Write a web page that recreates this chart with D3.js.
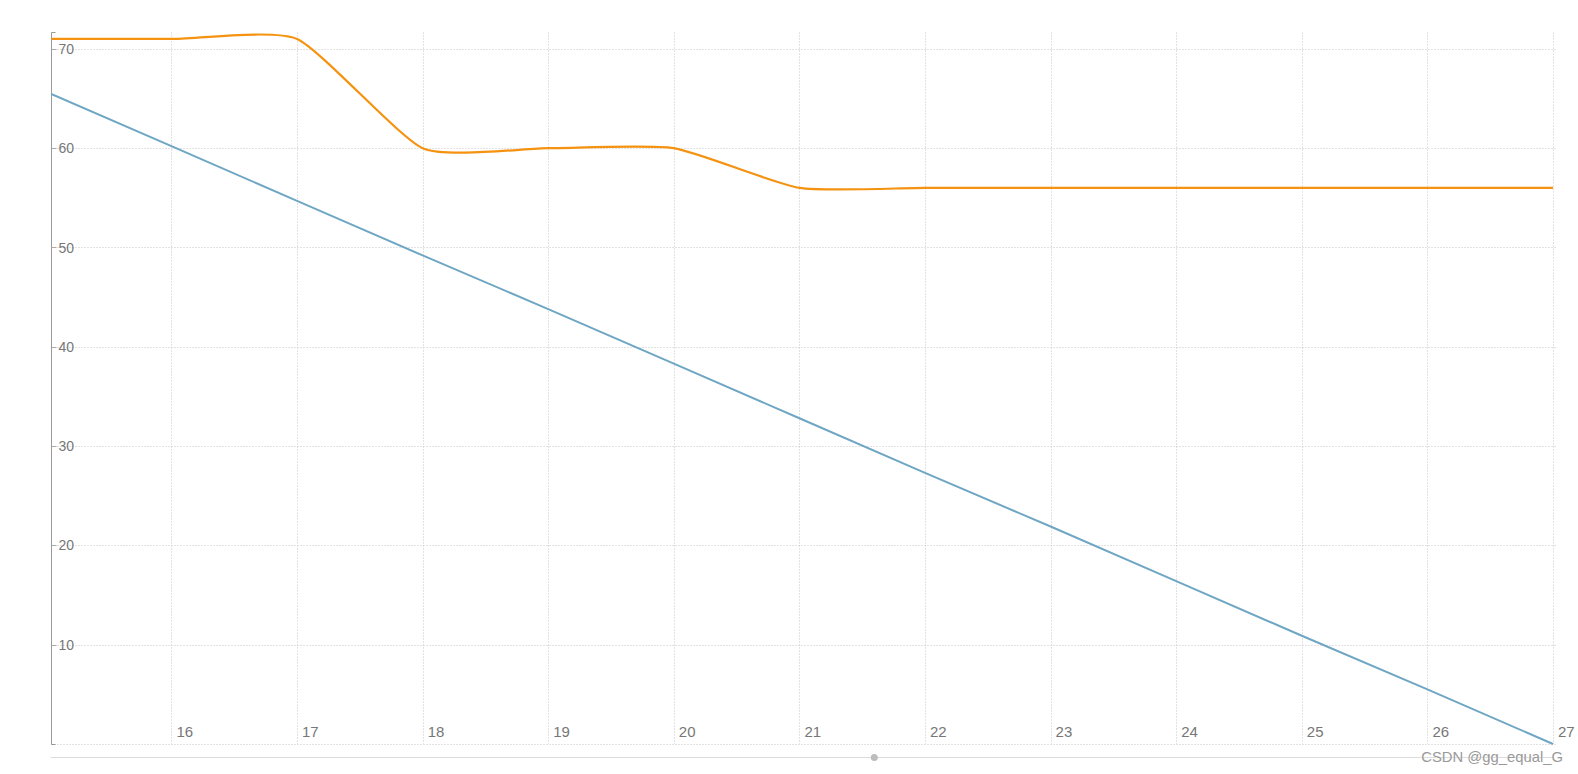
<!DOCTYPE html>
<html>
<head>
<meta charset="utf-8">
<script src="https://cdn.jsdelivr.net/npm/d3@7"></script>
<style>
  body { margin: 0; background: #fff; }
  svg { display: block; font-family: "Liberation Sans", Arial, sans-serif; }
</style>
</head>
<body>
<div id="chart"></div>
<script>
// Data
const xTicks = [16, 17, 18, 19, 20, 21, 22, 23, 24, 25, 26, 27];
const yTicks = [10, 20, 30, 40, 50, 60, 70];
const orangeX = [15, 16, 17, 18, 19, 20, 21, 22, 23, 24, 25, 26, 27];
const orangeY = [71, 71, 71, 60, 60, 60, 56, 56, 56, 56, 56, 56, 56];
const blueX = [15, 16, 17, 18, 19, 20, 21, 22, 23, 24, 25, 26, 27];
const blueY = [65.7, 60.2, 54.7, 49.2, 43.8, 38.3, 32.8, 27.3, 21.9, 16.4, 10.9, 5.5, 0];

const width = 1578, height = 774;
const padLeft = 51.5, padRight = 1553, padTop = 32.5, padBottom = 744;
const gridRight = 1557;

const x = d3.scaleLinear().domain([15.045, 27]).range([padLeft, padRight]);
const y = d3.scaleLinear().domain([0, 71.65]).range([padBottom, padTop]);

const svg = d3.select("#chart").append("svg")
    .attr("width", width)
    .attr("height", height);

svg.append("defs").append("clipPath").attr("id", "clip")
    .append("rect")
    .attr("x", padLeft).attr("y", 0)
    .attr("width", padRight - padLeft + 1).attr("height", padBottom + 2);

// Grid
svg.append("g")
    .selectAll("line")
    .data(xTicks)
    .join("line")
    .attr("x1", d => Math.round(x(d)) + 0.5).attr("x2", d => Math.round(x(d)) + 0.5)
    .attr("y1", padTop).attr("y2", padBottom)
    .attr("stroke", "#c4c4c4")
    .attr("stroke-dasharray", "1,2");

svg.append("g")
    .selectAll("line")
    .data(yTicks)
    .join("line")
    .attr("x1", padLeft).attr("x2", gridRight)
    .attr("y1", d => Math.round(y(d)) + 0.5).attr("y2", d => Math.round(y(d)) + 0.5)
    .attr("stroke", "#c4c4c4")
    .attr("stroke-dasharray", "1,2");

// x baseline (dotted)
svg.append("line")
    .attr("x1", padLeft).attr("x2", gridRight)
    .attr("y1", padBottom + 0.5).attr("y2", padBottom + 0.5)
    .attr("stroke", "#c4c4c4")
    .attr("stroke-dasharray", "1,2");

// y axis
svg.append("line")
    .attr("x1", padLeft).attr("x2", padLeft)
    .attr("y1", padTop).attr("y2", padBottom + 0.5)
    .attr("stroke", "#999");
svg.append("line")
    .attr("x1", padLeft).attr("x2", padLeft + 4)
    .attr("y1", padTop).attr("y2", padTop)
    .attr("stroke", "#999");
svg.append("line")
    .attr("x1", padLeft).attr("x2", padLeft + 4)
    .attr("y1", padBottom + 0.5).attr("y2", padBottom + 0.5)
    .attr("stroke", "#999");

const yg = svg.append("g");
yg.selectAll("line")
    .data(yTicks)
    .join("line")
    .attr("x1", padLeft).attr("x2", padLeft + 5)
    .attr("y1", d => Math.round(y(d)) + 0.5).attr("y2", d => Math.round(y(d)) + 0.5)
    .attr("stroke", "#aaa");
yg.selectAll("text")
    .data(yTicks)
    .join("text")
    .attr("x", padLeft + 7)
    .attr("y", d => y(d))
    .attr("dy", "0.36em")
    .attr("font-size", 14)
    .attr("fill", "#777")
    .text(d => d);

// x labels
svg.append("g")
    .selectAll("text")
    .data(xTicks)
    .join("text")
    .attr("x", d => x(d) + 5)
    .attr("y", padBottom - 7)
    .attr("font-size", 15)
    .attr("fill", "#777")
    .text(d => d);

// Lines
const plot = svg.append("g").attr("clip-path", "url(#clip)");

const blue = blueX.map((d, i) => [d, blueY[i]]);
const orange = orangeX.map((d, i) => [d, orangeY[i]]);

plot.append("path")
    .datum(blue)
    .attr("fill", "none")
    .attr("stroke", "#6ea6c4")
    .attr("stroke-width", 2)
    .attr("d", d3.line().x(d => x(d[0])).y(d => y(d[1])));

plot.append("path")
    .datum(orange)
    .attr("fill", "none")
    .attr("stroke", "#f59210")
    .attr("stroke-width", 2.2)
    .attr("d", d3.line().curve(d3.curveCardinal.tension(0.45)).x(d => x(d[0])).y(d => y(d[1])));

// slider track
svg.append("line")
    .attr("x1", padLeft - 1).attr("x2", padRight)
    .attr("y1", 757.5).attr("y2", 757.5)
    .attr("stroke", "#dcdcdc");
svg.append("circle")
    .attr("cx", 874.3).attr("cy", 757.5)
    .attr("r", 3.5)
    .attr("fill", "#bdbdbd");

// watermark
svg.append("text")
    .attr("x", 1563)
    .attr("y", 761.5)
    .attr("text-anchor", "end")
    .attr("font-size", 14.8)
    .attr("fill", "#999")
    .attr("stroke", "#fff")
    .attr("stroke-width", 0.5)
    .attr("paint-order", "stroke")
    .text("CSDN @gg_equal_G");
</script>
</body>
</html>
